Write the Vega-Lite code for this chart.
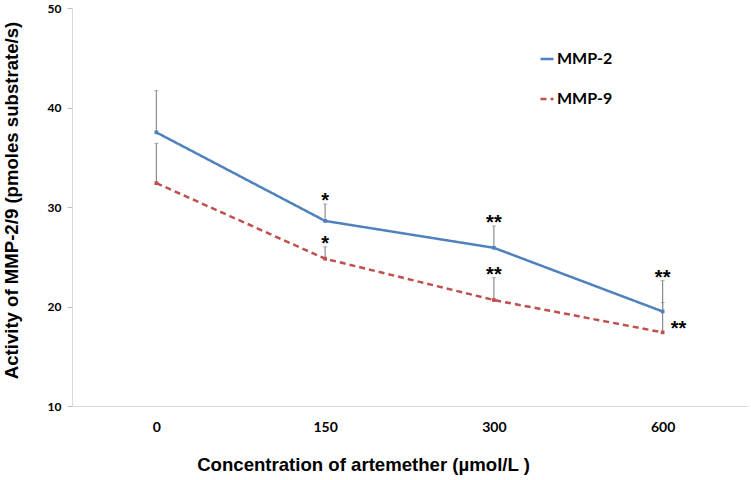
{
  "$schema": "https://vega.github.io/schema/vega-lite/v6.json",
  "width": 675,
  "height": 398,
  "autosize": {"type": "none"},
  "padding": {"left": 72, "top": 8, "right": 4, "bottom": 74},
  "background": "white",
  "config": {
    "view": {"stroke": null},
    "font": "Liberation Sans",
    "axisY": {
      "grid": false,
      "domainColor": "#d9d9d9",
      "tickColor": "#bfbfbf",
      "tickSize": 5,
      "labelFont": "Lato",
      "labelFontWeight": "bold",
      "labelFontSize": 12,
      "labelColor": "#000000",
      "labelPadding": 6,
      "titleFont": "Liberation Sans",
      "titleFontSize": 18.6,
      "titleFontWeight": "bold",
      "titleColor": "#000000",
      "titleX": -61,
      "titleY": 192,
      "titleAngle": -90,
      "titleAlign": "center",
      "titleBaseline": "middle",
      "titleAnchor": null
    },
    "axisX": {
      "grid": false,
      "labelAngle": 0,
      "ticks": false,
      "domainColor": "#d9d9d9",
      "labelFont": "Lato",
      "labelFontWeight": "bold",
      "labelFontSize": 14,
      "labelColor": "#000000",
      "labelPadding": 14,
      "titleFont": "Liberation Sans",
      "titleFontSize": 18.6,
      "titleFontWeight": "bold",
      "titleColor": "#000000",
      "titleX": 291,
      "titleY": 58,
      "titleAlign": "center",
      "titleBaseline": "middle",
      "titleAnchor": null
    }
  },
  "data": {
    "values": [
      {"conc": "0", "series": "MMP-2", "value": 37.5, "upper": 41.7, "sig": "", "sigpos": "none"},
      {"conc": "150", "series": "MMP-2", "value": 28.6, "upper": 30.3, "sig": "*", "sigpos": "above"},
      {"conc": "300", "series": "MMP-2", "value": 25.9, "upper": 28.1, "sig": "**", "sigpos": "above"},
      {"conc": "600", "series": "MMP-2", "value": 19.5, "upper": 22.6, "sig": "**", "sigpos": "above"},
      {"conc": "0", "series": "MMP-9", "value": 32.4, "upper": 36.4, "sig": "", "sigpos": "none"},
      {"conc": "150", "series": "MMP-9", "value": 24.8, "upper": 26.0, "sig": "*", "sigpos": "above"},
      {"conc": "300", "series": "MMP-9", "value": 20.65, "upper": 22.9, "sig": "**", "sigpos": "above"},
      {"conc": "600", "series": "MMP-9", "value": 17.4, "upper": 20.4, "sig": "**", "sigpos": "right"}
    ]
  },
  "encoding": {
    "x": {
      "field": "conc",
      "type": "ordinal",
      "sort": ["0", "150", "300", "600"],
      "scale": {"type": "point", "padding": 0.5},
      "title": "Concentration of artemether (µmol/L )"
    }
  },
  "layer": [
    {
      "mark": {"type": "rule", "color": "#8c8c8c", "strokeWidth": 1.2},
      "encoding": {
        "y": {"field": "value", "type": "quantitative", "scale": {"domain": [10, 50]}, "title": "Activity of MMP-2/9 (pmoles substrate/s)", "axis": {"values": [10, 20, 30, 40, 50]}},
        "y2": {"field": "upper"}
      }
    },
    {
      "mark": {"type": "tick", "color": "#8c8c8c", "size": 4, "thickness": 1},
      "encoding": {
        "y": {"field": "upper", "type": "quantitative", "title": "Activity of MMP-2/9 (pmoles substrate/s)", "axis": {"values": [10, 20, 30, 40, 50]}}
      }
    },
    {
      "mark": {"type": "line", "strokeWidth": 2.5},
      "encoding": {
        "y": {"field": "value", "type": "quantitative", "title": "Activity of MMP-2/9 (pmoles substrate/s)", "axis": {"values": [10, 20, 30, 40, 50]}},
        "color": {
          "field": "series",
          "type": "nominal",
          "scale": {"domain": ["MMP-2", "MMP-9"], "range": ["#4f81bd", "#c0504d"]},
          "legend": {
            "title": null,
            "orient": "none",
            "legendX": 467,
            "legendY": 43,
            "symbolType": "stroke",
            "symbolStrokeWidth": 2.5,
            "symbolSize": 170,
            "labelFont": "Lato",
            "labelFontWeight": "bold",
            "labelFontSize": 16,
            "labelColor": "#000000",
            "labelOffset": 2,
            "rowPadding": 24
          }
        },
        "strokeDash": {
          "field": "series",
          "type": "nominal",
          "scale": {"domain": ["MMP-2", "MMP-9"], "range": [[1, 0], [6, 4]]},
          "legend": null
        }
      }
    },
    {
      "mark": {"type": "point", "shape": "square", "filled": true, "size": 14, "opacity": 1},
      "encoding": {
        "y": {"field": "value", "type": "quantitative", "title": "Activity of MMP-2/9 (pmoles substrate/s)", "axis": {"values": [10, 20, 30, 40, 50]}},
        "color": {"field": "series", "type": "nominal", "legend": null}
      }
    },
    {
      "transform": [{"filter": "datum.sigpos === 'above'"}],
      "mark": {"type": "text", "font": "Liberation Sans", "fontSize": 20, "fontWeight": "bold", "baseline": "alphabetic", "dy": 3, "color": "#000000"},
      "encoding": {
        "y": {"field": "upper", "type": "quantitative", "title": "Activity of MMP-2/9 (pmoles substrate/s)", "axis": {"values": [10, 20, 30, 40, 50]}},
        "text": {"field": "sig"}
      }
    },
    {
      "transform": [{"filter": "datum.sigpos === 'right'"}],
      "mark": {"type": "text", "font": "Liberation Sans", "fontSize": 20, "fontWeight": "bold", "baseline": "alphabetic", "align": "left", "dx": 8, "dy": 3, "color": "#000000"},
      "encoding": {
        "y": {"field": "value", "type": "quantitative", "title": "Activity of MMP-2/9 (pmoles substrate/s)", "axis": {"values": [10, 20, 30, 40, 50]}},
        "text": {"field": "sig"}
      }
    }
  ]
}
